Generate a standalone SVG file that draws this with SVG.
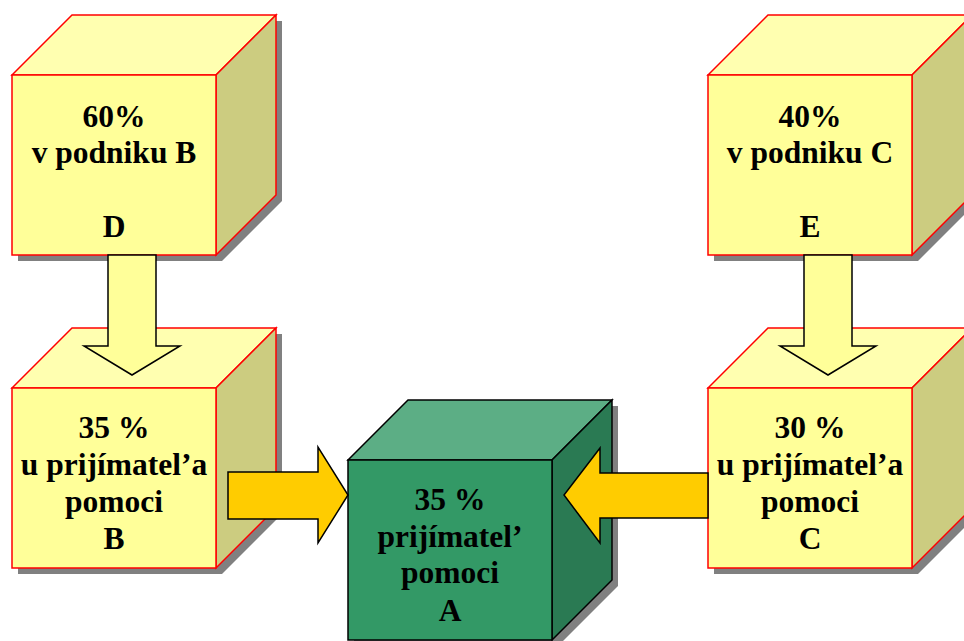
<svg xmlns="http://www.w3.org/2000/svg" xmlns:xlink="http://www.w3.org/1999/xlink" width="964" height="641" viewBox="0 0 964 641">
<style>
.sh{fill:#808080}
.yf{fill:#FFFF99;stroke:#FF0000;stroke-width:1.5;stroke-linejoin:miter}
.yt{fill:#FFFFB0;stroke:#FF0000;stroke-width:1.5}
.ys{fill:#CCCC80;stroke:#FF0000;stroke-width:1.5}
.gf{fill:#339966;stroke:#000;stroke-width:1.5}
.gt{fill:#5CAE85;stroke:#000;stroke-width:1.5}
.gs{fill:#2A7A53;stroke:#000;stroke-width:1.5}
.va{fill:#FFFF99;stroke:#000;stroke-width:1.5}
.ha{fill:#FFCC00;stroke:#000;stroke-width:1.5}
text{font-family:"Liberation Serif","Times New Roman",serif;font-weight:bold;font-size:31.5px;fill:#000;text-anchor:middle}
</style>
<defs>
<g id="ycube">
<polygon class="sh" points="6,6 66,-54 270,-54 270,126 210,186 6,186"/>
<polygon class="yt" points="0,0 60,-60 264,-60 204,0"/>
<polygon class="ys" points="204,0 264,-60 264,120 204,180"/>
<rect class="yf" x="0" y="0" width="204" height="180"/>
</g>
<g id="gcube">
<polygon class="sh" points="6,6 66,-54 270,-54 270,126 210,186 6,186"/>
<polygon class="gt" points="0,0 60,-60 264,-60 204,0"/>
<polygon class="gs" points="204,0 264,-60 264,120 204,180"/>
<rect class="gf" x="0" y="0" width="204" height="180"/>
</g>
</defs>
<g id="nodeD">
<use xlink:href="#ycube" x="12" y="75"/>
<text x="114" y="127">60%</text>
<text x="114" y="163">v podniku B</text>
<text x="114" y="237">D</text>
</g>
<g id="nodeE">
<use xlink:href="#ycube" x="708" y="75"/>
<text x="810" y="127">40%</text>
<text x="810" y="163">v podniku C</text>
<text x="810" y="237">E</text>
</g>
<g id="nodeB">
<use xlink:href="#ycube" x="12" y="388"/>
<text x="114" y="438">35 %</text>
<text x="114" y="475">u prijímatel’a</text>
<text x="114" y="512">pomoci</text>
<text x="114" y="549">B</text>
</g>
<g id="nodeC">
<use xlink:href="#ycube" x="708" y="388"/>
<text x="810" y="438">30 %</text>
<text x="810" y="475">u prijímatel’a</text>
<text x="810" y="512">pomoci</text>
<text x="810" y="549">C</text>
</g>
<g id="nodeA">
<use xlink:href="#gcube" x="348" y="460"/>
<text x="450" y="510">35 %</text>
<text x="450" y="547">prijímatel’</text>
<text x="450" y="583">pomoci</text>
<text x="450" y="621">A</text>
</g>
<g id="connectors">
<polygon class="va" points="108,255 156,255 156,346 180,346 132,375 84,346 108,346"/>
<polygon class="va" points="804,255 852,255 852,346 876,346 828,375 780,346 804,346"/>
<polygon class="ha" points="228,472 318,472 318,447 348,495 318,543 318,519 228,519"/>
<polygon class="ha" points="708,473 600,473 600,448 564,495 600,543 600,518 708,518"/>
</g>
</svg>
